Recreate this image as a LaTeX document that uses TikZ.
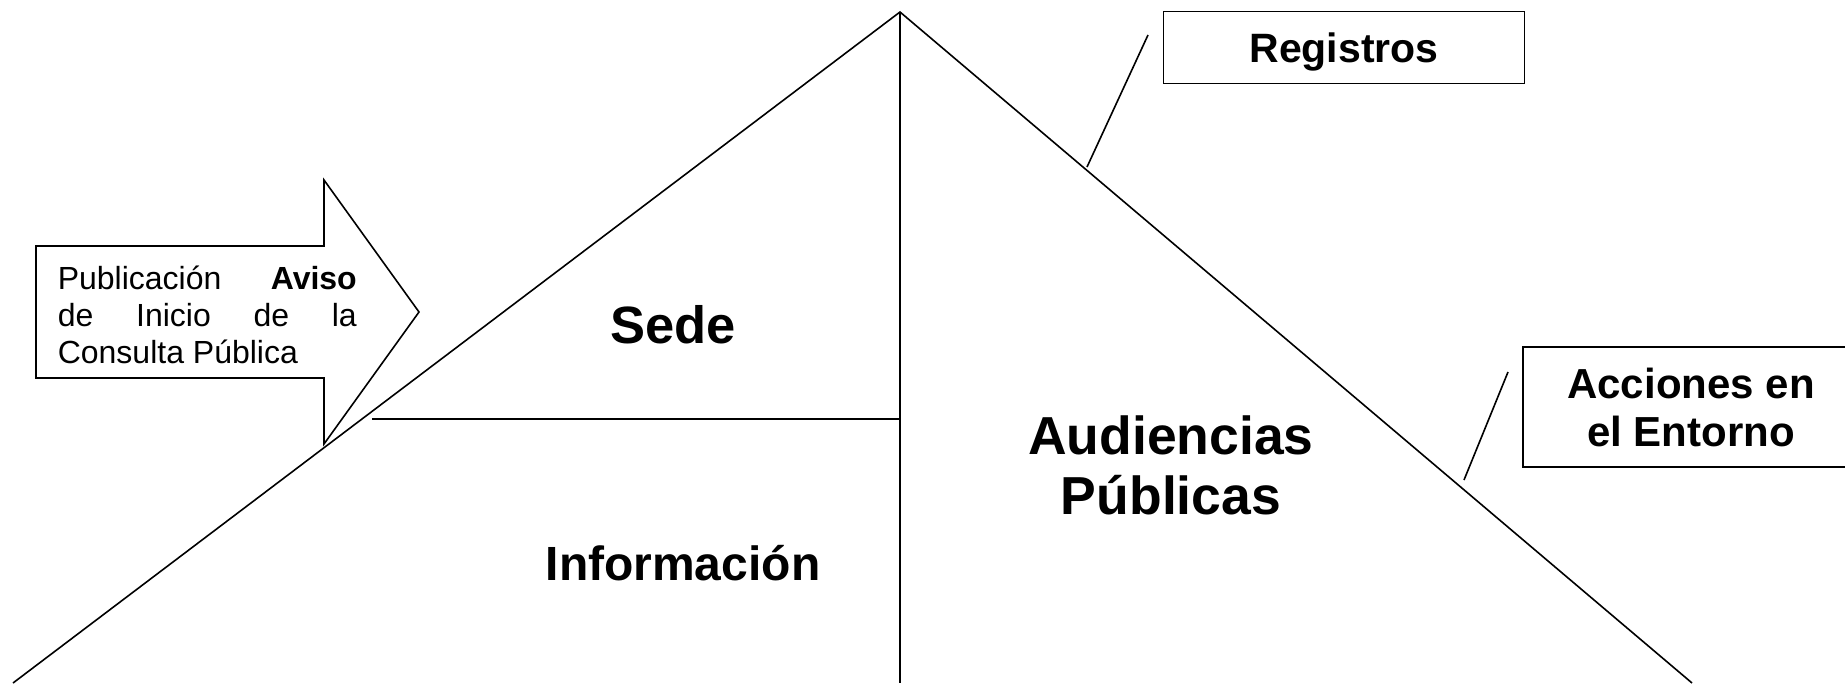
\documentclass[tikz,border=0pt]{standalone}
\usepackage{fontspec}
\setmainfont{Liberation Sans}
\begin{document}
\begin{tikzpicture}[x=1pt,y=-1pt,line width=1.6pt,
  big/.style={inner sep=0pt,align=center},
  callout/.style={draw,line width=1.6pt,inner sep=0pt,align=center}]
\clip (0,0) rectangle (1845,683);
% triangle
\coordinate (L) at (13,683);
\coordinate (T) at (900,12);
\coordinate (R) at (1692,683);
\coordinate (B) at (900,683);
\coordinate (H1) at (372,419);
\coordinate (H2) at (900,419);
\draw (L) -- (T) -- (R);
\draw (T) -- (B);
\draw (H1) -- (H2);
% arrow
\draw (36,246) -- (324,246) -- (324,180) -- (419,312) -- (324,444) -- (324,378) -- (36,378) -- cycle;
\node[anchor=base west,inner sep=0pt,align=left,font=\fontsize{32}{37}\selectfont] (aviso) at (57,363.5)
  {\makebox[299pt][s]{Publicación \textbf{Aviso}}\\\makebox[299pt][s]{de Inicio de la}\\Consulta Pública};
% labels
\node[big,anchor=base,font=\bfseries\fontsize{52.5}{60}\selectfont] (sede) at (673,343) {Sede};
\node[big,anchor=base,font=\bfseries\fontsize{48}{55}\selectfont] (info) at (683,580) {Información};
\node[big,anchor=base,font=\bfseries\fontsize{53.5}{60}\selectfont] (aud) at (1171,514) {Audiencias\\Públicas};
% boxes
\node[callout,minimum width=361pt,minimum height=72pt,text height=29pt,text depth=0pt,
  font=\bfseries\fontsize{41}{47}\selectfont] (reg) at (1344,47.5) {Registros};
\node[callout,minimum width=336pt,minimum height=120pt,
  font=\bfseries\fontsize{42}{48}\selectfont] (acc) at (1691,407) {\raisebox{-3.5pt}{Acciones en}\\\raisebox{-3.5pt}{el Entorno}};
% callout lines
\coordinate (r1) at (1148,35);
\coordinate (r2) at (1087,167);
\draw (r1) -- (r2);
\coordinate (a1) at (1508,372);
\coordinate (a2) at (1464,480);
\draw (a1) -- (a2);
\end{tikzpicture}
\end{document}
